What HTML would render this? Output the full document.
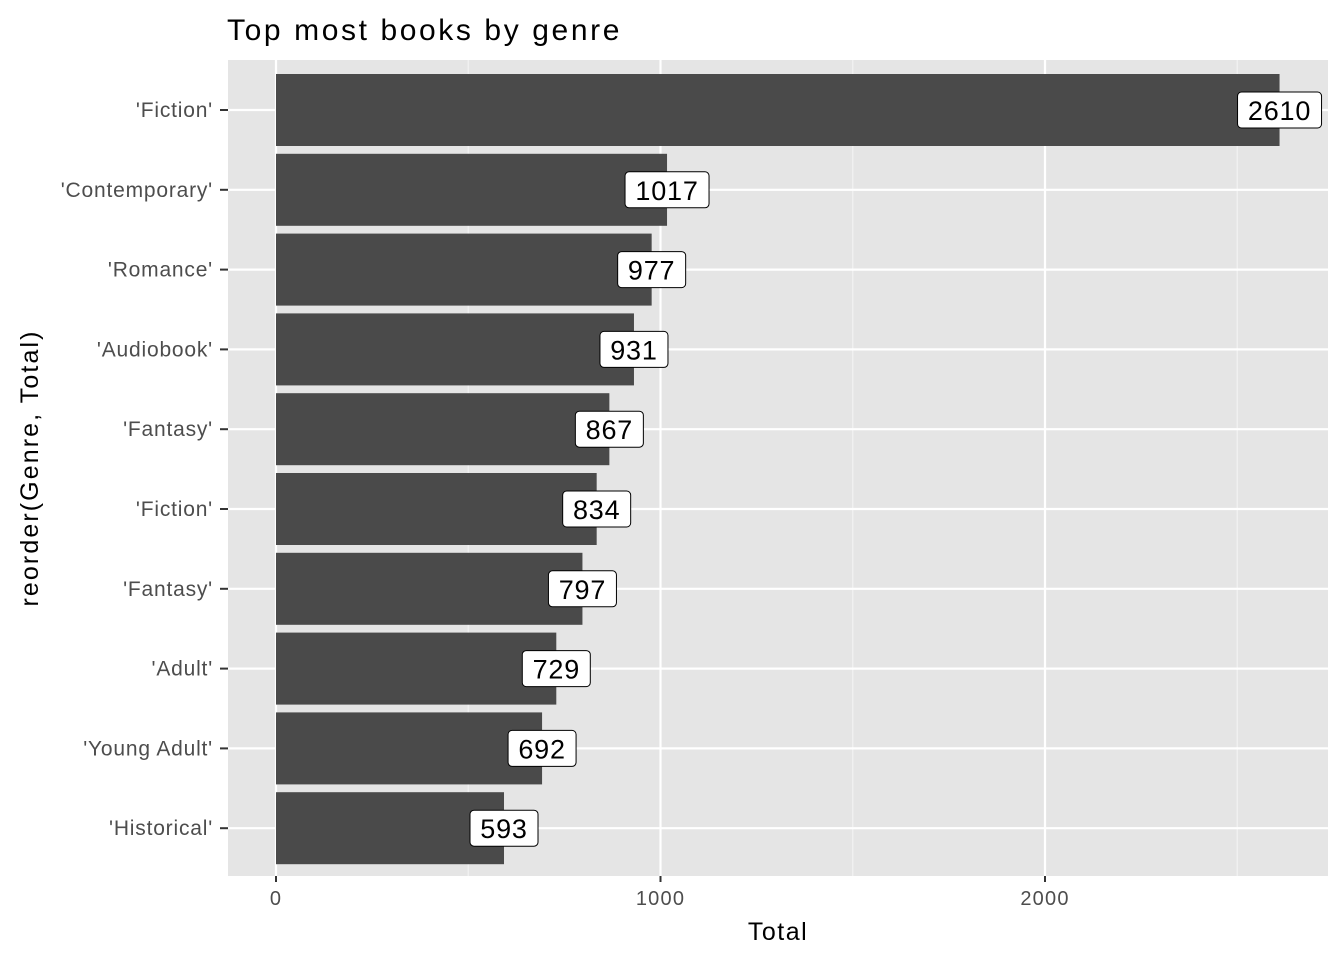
<!DOCTYPE html>
<html><head><meta charset="utf-8"><style>
body{margin:0;background:#fff}
svg{display:block;font-family:"Liberation Sans",Arial,sans-serif}
</style></head><body>
<svg id="chart" width="1344" height="960" xmlns="http://www.w3.org/2000/svg">
<rect x="228" y="60" width="1100" height="816" fill="#e5e5e5"/>
<g id="grid"></g><g id="bars"></g><g id="axes"></g>
<text x="227" y="40" font-size="30" letter-spacing="2.6" fill="#000">Top most books by genre</text>
<text x="778" y="940" font-size="25" letter-spacing="1.5" text-anchor="middle" fill="#000">Total</text>
<text transform="translate(38,468) rotate(-90)" font-size="25" letter-spacing="2.1" text-anchor="middle" fill="#000">reorder(Genre, Total)</text>
</svg>
<script>
const categories=["'Fiction'","'Contemporary'","'Romance'","'Audiobook'","'Fantasy'","'Fiction'","'Fantasy'","'Adult'","'Young Adult'","'Historical'"];
const totals=[2610,1017,977,931,867,834,797,729,692,593];
const majorTicks=[0,1000,2000];
const minorTicks=[500,1500,2500];
const NS="http://www.w3.org/2000/svg";
const x0=276,pxPer=0.3845,panelTop=60,step=79.8,barH=72;
const xs=v=>x0+v*pxPer;
const yc=i=>panelTop+50+i*step;
function mk(tag,attrs,parent,txt){const e=document.createElementNS(NS,tag);for(const k in attrs)e.setAttribute(k,attrs[k]);if(txt!==undefined)e.textContent=txt;parent.appendChild(e);return e;}
const grid=document.getElementById('grid'),bars=document.getElementById('bars'),axes=document.getElementById('axes');
minorTicks.forEach(t=>{const l=mk('line',{x1:xs(t),x2:xs(t),y1:60,y2:876,stroke:'#f2f2f2','stroke-width':1.2},grid);

});
majorTicks.forEach(t=>{const l=mk('line',{x1:xs(t),x2:xs(t),y1:60,y2:876,stroke:'#fff','stroke-width':2.2},grid);


mk('line',{x1:xs(t),x2:xs(t),y1:876,y2:882,stroke:'#333','stroke-width':2},axes);
const tx=mk('text',{x:xs(t),y:905,'font-size':20,'letter-spacing':1.2,'text-anchor':'middle',fill:'#4d4d4d'},axes,String(t));

});
categories.forEach((c,i)=>{const y=yc(i);
const g=mk('line',{x1:228,x2:1328,y1:y,y2:y,stroke:'#fff','stroke-width':2.2},grid);


mk('line',{x1:220,x2:228,y1:y,y2:y,stroke:'#333','stroke-width':2},axes);
const tl=mk('text',{x:213,y:y+7,'font-size':21,'letter-spacing':0.8,'text-anchor':'end',fill:'#4d4d4d'},axes,c);


const b=mk('rect',{x:x0,y:y-barH/2,width:xs(totals[i])-x0,height:barH,fill:'#4a4a4a'},bars);


const s=String(totals[i]);const w=s.length*16+20;const cx=xs(totals[i]);
const r=mk('rect',{x:cx-w/2,y:y-18,width:w,height:36,rx:4,fill:'#fff',stroke:'#000','stroke-width':1},bars);


const t=mk('text',{x:cx,y:y+10,'font-size':27,'letter-spacing':0.8,'text-anchor':'middle',fill:'#000'},bars,s);

});
</script>
</body></html>
